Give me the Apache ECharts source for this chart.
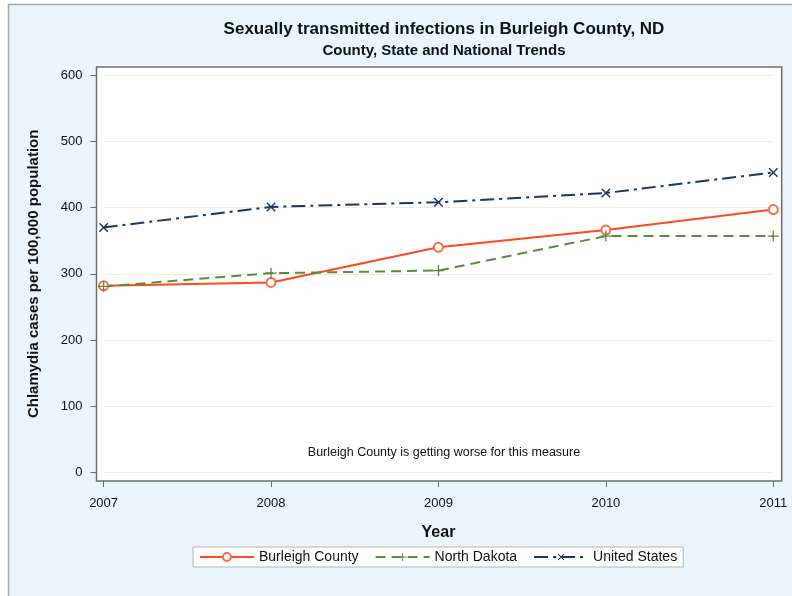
<!DOCTYPE html>
<html>
<head>
<meta charset="utf-8">
<script src="https://cdn.jsdelivr.net/npm/echarts@6/dist/echarts.min.js"></script>
<style>
  html, body { margin: 0; padding: 0; background: #fff; }
  #chart { width: 792px; height: 596px; }
</style>
</head>
<body>
<div id="chart"></div>
<script>
// data
const years = ["2007", "2008", "2009", "2010", "2011"];
const burleigh = [282, 287, 340, 366, 397];
const northDakota = [281, 301, 305, 357, 357];
const unitedStates = [370, 401, 408, 422, 453];
const yTicks = [0, 100, 200, 300, 400, 500, 600];

const font = "Liberation Sans, Arial, sans-serif";
const plus = "path://M4.4,0h1.2v4.4h4.4v1.2h-4.4v4.4h-1.2v-4.4h-4.4v-1.2h4.4z";

let myChart = echarts.init(document.getElementById("chart"));

let option = {
  backgroundColor: "#fff",
  animation: false,
  textStyle: { fontFamily: font },
  graphic: [
    {
      type: "rect",
      shape: { x: 8.5, y: 4.5, width: 800, height: 600 },
      style: { fill: "#eaf5fd", stroke: "#a8a8a8", lineWidth: 1.5 },
      z: -10
    }
  ],
  title: [
    {
      text: "Sexually transmitted infections in Burleigh County, ND",
      left: 439, top: 16, textAlign: "center",
      textStyle: { fontSize: 17, fontWeight: "bold", color: "#111", fontFamily: font }
    },
    {
      text: "County, State and National Trends",
      left: 439, top: 38, textAlign: "center",
      textStyle: { fontSize: 15, fontWeight: "bold", color: "#111", fontFamily: font }
    },
    {
      text: "Burleigh County is getting worse for this measure",
      left: 439, top: 441, textAlign: "center",
      textStyle: { fontSize: 12.5, fontWeight: "normal", color: "#111", fontFamily: font }
    }
  ],
  legend: {
    left: 193, top: 547,
    itemWidth: 54, itemHeight: 10, itemGap: 16,
    padding: [3, 6, 3, 6],
    backgroundColor: "#fff",
    borderColor: "#b5b5b5", borderWidth: 1, borderRadius: 0,
    textStyle: { fontSize: 14, color: "#111", fontFamily: font },
    data: ["Burleigh County", "North Dakota", "United States"]
  },
  grid: [
    // frame of the plot region
    { left: 96.5, right: 10.3, top: 67, bottom: 115, show: true,
      backgroundColor: "#fff", borderColor: "#6f6d67", borderWidth: 1.5 },
    // data region
    { left: 103.6, right: 18.7, top: 75, bottom: 123.3 }
  ],
  xAxis: [
    { gridIndex: 0, type: "value", show: false, min: 0, max: 1 },
    {
      gridIndex: 1,
      type: "category",
      data: years,
      boundaryGap: false,
      offset: 8.3,
      name: "Year",
      nameLocation: "middle",
      nameGap: 44,
      nameTextStyle: { fontSize: 16, fontWeight: "bold", color: "#111", fontFamily: font },
      axisLine: { show: false, onZero: false },
      axisTick: { length: 6, lineStyle: { color: "#6f6d67" } },
      axisLabel: { fontSize: 13, color: "#111", margin: 16, fontFamily: font }
    }
  ],
  yAxis: [
    { gridIndex: 0, type: "value", show: false, min: 0, max: 1 },
    {
      gridIndex: 1,
      type: "value",
      min: 0, max: 600, interval: 100,
      offset: 7.1,
      name: "Chlamydia cases per 100,000 population",
      nameLocation: "middle",
      nameGap: 55,
      nameTextStyle: { fontSize: 15, fontWeight: "bold", color: "#111", fontFamily: font },
      axisLine: { show: false, onZero: false },
      axisTick: { show: true, length: 6, lineStyle: { color: "#6f6d67" } },
      axisLabel: {
        fontSize: 13, color: "#111", margin: 14, fontFamily: font,
        formatter: v => (yTicks.indexOf(v) >= 0 ? String(v) : "")
      },
      splitLine: { show: true, lineStyle: { color: "#eeeedd", width: 1 } }
    }
  ],
  series: [
    {
      name: "Burleigh County",
      type: "line",
      xAxisIndex: 1, yAxisIndex: 1,
      data: burleigh,
      color: "#ff4a1c",
      symbol: "emptyCircle",
      symbolSize: 9,
      lineStyle: { width: 2, color: "#ff4a1c" },
      itemStyle: { color: "#ff6a44", borderColor: "#ff6a44", borderWidth: 1.3 }
    },
    {
      name: "North Dakota",
      type: "line",
      xAxisIndex: 1, yAxisIndex: 1,
      data: northDakota,
      color: "#5b8c3e",
      symbol: plus,
      symbolSize: 11,
      lineStyle: { width: 2, type: [10, 6], color: "#5b8c3e" },
      itemStyle: { color: "#5b8c3e" }
    },
    {
      name: "United States",
      type: "line",
      xAxisIndex: 1, yAxisIndex: 1,
      data: unitedStates,
      color: "#15386a",
      symbol: plus,
      symbolSize: 12,
      symbolRotate: 45,
      lineStyle: { width: 2, type: [14, 5, 3, 5], color: "#15386a" },
      itemStyle: { color: "#15386a" }
    }
  ]
};

myChart.setOption(option);

window.addEventListener("resize", function() {
  myChart.resize();
});
</script>
</body>
</html>
